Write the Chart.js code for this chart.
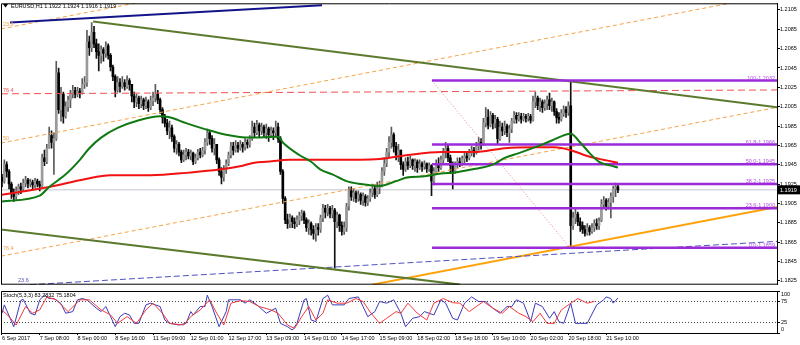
<!DOCTYPE html>
<html>
<head>
<meta charset="utf-8">
<script src="https://cdn.jsdelivr.net/npm/chart.js@4.4.0/dist/chart.umd.min.js"></script>
<style>
  html, body { margin: 0; padding: 0; background: #fff; }
  #wrap { position: relative; width: 800px; height: 345px; overflow: hidden; background: #fff; }
  canvas { position: absolute; left: 0; }
  #priceChart { top: 0; }
  #stochChart { top: 288px; }
</style>
</head>
<body>
<div id="wrap">
  <canvas id="priceChart" width="800" height="288"></canvas>
  <canvas id="stochChart" width="800" height="57"></canvas>
</div>
<script>
// ---- data ----
const symbol = 'EURUSD,H1';
const lastQuote = [1.1922, 1.1924, 1.1916, 1.1919];
const firstOpen = 1.1932;

const closes = [
  1.1928, 1.1945, 1.1938, 1.1925, 1.1915, 1.1912, 1.1918, 1.1922, 1.1920, 1.1926,
  1.1929, 1.1925, 1.1927, 1.1924, 1.1928, 1.1925, 1.1923, 1.1952, 1.1948, 1.1962,
  1.1975, 1.1968, 1.1972, 1.2040, 1.2002, 1.2018, 1.1995, 1.2005, 1.2012, 1.2018,
  1.2022, 1.2018, 1.2021, 1.2019, 1.2028, 1.2030, 1.2072, 1.2066, 1.2082, 1.2070,
  1.2062, 1.2058, 1.2064, 1.2060, 1.2068, 1.2058, 1.2046, 1.2036, 1.2022, 1.2030,
  1.2026, 1.2030, 1.2026, 1.2032, 1.2028, 1.2016, 1.2010, 1.2014, 1.2008, 1.2012,
  1.2006, 1.2010, 1.2004, 1.2011, 1.2014, 1.2018, 1.2012, 1.2002, 1.1994, 1.1988,
  1.1980, 1.1983, 1.1974, 1.1962, 1.1966, 1.1958, 1.1950, 1.1955, 1.1958, 1.1954,
  1.1957, 1.1948, 1.1952, 1.1958, 1.1955, 1.1960, 1.1968, 1.1978, 1.1972, 1.1962,
  1.1966, 1.1950, 1.1938, 1.1932, 1.1940, 1.1946, 1.1955, 1.1964, 1.1960, 1.1965,
  1.1962, 1.1966, 1.1963, 1.1968, 1.1966, 1.1972, 1.1984, 1.1978, 1.1986, 1.1980,
  1.1984, 1.1978, 1.1982, 1.1976, 1.1980, 1.1978, 1.1984, 1.1972, 1.1938, 1.1910,
  1.1888, 1.1884, 1.1890, 1.1886, 1.1884, 1.1888, 1.1892, 1.1895, 1.1888, 1.1880,
  1.1884, 1.1878, 1.1874, 1.1880, 1.1878, 1.1890, 1.1900, 1.1896, 1.1900, 1.1894,
  1.1898, 1.1886, 1.1893, 1.1882, 1.1876, 1.1880, 1.1902, 1.1918, 1.1912, 1.1916,
  1.1910, 1.1914, 1.1908, 1.1912, 1.1906, 1.1910, 1.1916, 1.1920, 1.1914, 1.1921,
  1.1924, 1.1938, 1.1946, 1.1958, 1.1968, 1.1976, 1.1964, 1.1955, 1.1960, 1.1945,
  1.1940, 1.1948, 1.1944, 1.1950, 1.1944, 1.1948, 1.1942, 1.1946, 1.1943, 1.1946,
  1.1941, 1.1944, 1.1928, 1.1938, 1.1946, 1.1942, 1.1950, 1.1958, 1.1962, 1.1952,
  1.1944, 1.1938, 1.1945, 1.1948, 1.1946, 1.1951, 1.1954, 1.1952, 1.1957, 1.1960,
  1.1958, 1.1964, 1.1968, 1.1966, 1.1988, 1.1994, 1.1986, 1.1996, 1.1988, 1.1992,
  1.1972, 1.1984, 1.1980, 1.1985, 1.1978, 1.1982, 1.1990, 1.1996, 1.1992, 1.1995,
  1.1992, 1.1995, 1.1993, 1.1995, 1.1991, 1.2010, 1.2014, 1.2006, 1.2010, 1.2004,
  1.2008, 1.2012, 1.2006, 1.2010, 1.2000, 1.1994, 1.1992, 1.1998, 1.2002, 1.1999,
  1.2006, 1.1882, 1.1890, 1.1894, 1.1886, 1.1882, 1.1878, 1.1874, 1.1880, 1.1876,
  1.1880, 1.1884, 1.1882, 1.1887, 1.1904, 1.1908, 1.1902, 1.1906, 1.1912, 1.1920,
  1.1922, 1.1919
];
const highs = [
  1.1935, 1.1950, 1.1948, 1.1940, 1.1927, 1.1920, 1.1922, 1.1925, 1.1926, 1.1930,
  1.1933, 1.1931, 1.1930, 1.1929, 1.1931, 1.1930, 1.1928, 1.1956, 1.1960, 1.1966,
  1.1984, 1.1980, 1.1978, 1.2052, 1.2045, 1.2025, 1.2020, 1.2010, 1.2016, 1.2022,
  1.2027, 1.2025, 1.2025, 1.2024, 1.2034, 1.2036, 1.2084, 1.2078, 1.2092, 1.2088,
  1.2075, 1.2070, 1.2068, 1.2066, 1.2072, 1.2070, 1.2060, 1.2048, 1.2038, 1.2036,
  1.2034, 1.2036, 1.2033, 1.2037, 1.2034, 1.2024, 1.2020, 1.2018, 1.2016, 1.2016,
  1.2014, 1.2015, 1.2012, 1.2016, 1.2020, 1.2028, 1.2022, 1.2014, 1.2004, 1.1997,
  1.1992, 1.1990, 1.1986, 1.1976, 1.1970, 1.1968, 1.1960, 1.1960, 1.1962, 1.1961,
  1.1960, 1.1958, 1.1956, 1.1961, 1.1962, 1.1963, 1.1972, 1.1982, 1.1980, 1.1975,
  1.1972, 1.1966, 1.1952, 1.1942, 1.1944, 1.1950, 1.1958, 1.1968, 1.1968, 1.1970,
  1.1968, 1.1970, 1.1968, 1.1972, 1.1971, 1.1975, 1.1990, 1.1988, 1.1991, 1.1988,
  1.1988, 1.1986, 1.1987, 1.1984, 1.1984, 1.1983, 1.1990, 1.1988, 1.1974, 1.1940,
  1.1912, 1.1894, 1.1894, 1.1892, 1.1890, 1.1892, 1.1896, 1.1898, 1.1897, 1.1890,
  1.1888, 1.1886, 1.1882, 1.1884, 1.1884, 1.1893, 1.1904, 1.1903, 1.1904, 1.1902,
  1.1903, 1.1900, 1.1896, 1.1894, 1.1886, 1.1886, 1.1905, 1.1922, 1.1922, 1.1920,
  1.1918, 1.1918, 1.1916, 1.1916, 1.1914, 1.1913, 1.1920, 1.1925, 1.1923, 1.1927,
  1.1928, 1.1942, 1.1952, 1.1962, 1.1974, 1.1984, 1.1978, 1.1968, 1.1966, 1.1960,
  1.1948, 1.1952, 1.1953, 1.1954, 1.1951, 1.1951, 1.1950, 1.1950, 1.1948, 1.1949,
  1.1947, 1.1947, 1.1945, 1.1942, 1.1950, 1.1952, 1.1954, 1.1962, 1.1968, 1.1965,
  1.1955, 1.1948, 1.1948, 1.1952, 1.1952, 1.1954, 1.1957, 1.1958, 1.1961, 1.1964,
  1.1963, 1.1968, 1.1973, 1.1972, 1.1993, 1.2004, 1.2002, 1.2000, 1.1998, 1.1996,
  1.1994, 1.1990, 1.1988, 1.1990, 1.1987, 1.1986, 1.1993, 1.2000, 1.1999, 1.1999,
  1.1998, 1.1998, 1.1997, 1.1998, 1.1997, 1.2016, 1.2020, 1.2016, 1.2014, 1.2012,
  1.2012, 1.2016, 1.2019, 1.2014, 1.2011, 1.2003, 1.1999, 1.2002, 1.2006, 1.2005,
  1.2010, 1.2032, 1.1896, 1.1899, 1.1896, 1.1890, 1.1886, 1.1882, 1.1884, 1.1882,
  1.1884, 1.1888, 1.1889, 1.1890, 1.1909, 1.1912, 1.1910, 1.1910, 1.1916, 1.1923,
  1.1926, 1.1924
];
const lows = [
  1.1922, 1.1926, 1.1932, 1.1920, 1.1910, 1.1907, 1.1909, 1.1914, 1.1915, 1.1918,
  1.1922, 1.1921, 1.1922, 1.1920, 1.1921, 1.1922, 1.1918, 1.1922, 1.1944, 1.1946,
  1.1962, 1.1962, 1.1935, 1.1970, 1.1998, 1.1990, 1.1988, 1.1993, 1.2000, 1.2004,
  1.2014, 1.2014, 1.2015, 1.2014, 1.2018, 1.2024, 1.2026, 1.2058, 1.2062, 1.2066,
  1.2055, 1.2042, 1.2050, 1.2052, 1.2056, 1.2054, 1.2042, 1.2032, 1.2015, 1.2020,
  1.2020, 1.2024, 1.2022, 1.2024, 1.2022, 1.2010, 1.2004, 1.2005, 1.2003, 1.2004,
  1.2002, 1.2003, 1.2000, 1.2002, 1.2006, 1.2010, 1.2008, 1.1998, 1.1988, 1.1984,
  1.1976, 1.1972, 1.1969, 1.1958, 1.1956, 1.1954, 1.1947, 1.1948, 1.1950, 1.1951,
  1.1950, 1.1945, 1.1946, 1.1950, 1.1952, 1.1953, 1.1956, 1.1965, 1.1966, 1.1958,
  1.1955, 1.1946, 1.1934, 1.1925, 1.1928, 1.1936, 1.1944, 1.1952, 1.1955, 1.1958,
  1.1958, 1.1960, 1.1958, 1.1960, 1.1962, 1.1963, 1.1970, 1.1974, 1.1976, 1.1974,
  1.1976, 1.1974, 1.1972, 1.1969, 1.1973, 1.1971, 1.1975, 1.1968, 1.1935, 1.1905,
  1.1884, 1.1879, 1.1880, 1.1880, 1.1879, 1.1881, 1.1883, 1.1887, 1.1884, 1.1876,
  1.1873, 1.1872, 1.1868, 1.1866, 1.1872, 1.1875, 1.1886, 1.1890, 1.1892, 1.1890,
  1.1890, 1.1838, 1.1880, 1.1876, 1.1872, 1.1873, 1.1876, 1.1898, 1.1908, 1.1907,
  1.1906, 1.1907, 1.1904, 1.1903, 1.1902, 1.1903, 1.1907, 1.1912, 1.1910, 1.1912,
  1.1915, 1.1922, 1.1934, 1.1943, 1.1952, 1.1962, 1.1958, 1.1950, 1.1948, 1.1940,
  1.1934, 1.1938, 1.1940, 1.1942, 1.1940, 1.1938, 1.1937, 1.1940, 1.1938, 1.1940,
  1.1937, 1.1938, 1.1913, 1.1924, 1.1935, 1.1938, 1.1940, 1.1946, 1.1952, 1.1948,
  1.1936, 1.1920, 1.1936, 1.1942, 1.1943, 1.1944, 1.1947, 1.1948, 1.1950, 1.1954,
  1.1953, 1.1956, 1.1960, 1.1961, 1.1965, 1.1984, 1.1982, 1.1984, 1.1982, 1.1983,
  1.1966, 1.1970, 1.1975, 1.1976, 1.1974, 1.1968, 1.1978, 1.1988, 1.1988, 1.1990,
  1.1988, 1.1990, 1.1989, 1.1990, 1.1988, 1.1990, 1.2004, 1.2002, 1.2000, 1.1999,
  1.2001, 1.2002, 1.2002, 1.2000, 1.1996, 1.1988, 1.1988, 1.1990, 1.1995, 1.1994,
  1.1996, 1.1859, 1.1878, 1.1884, 1.1882, 1.1876, 1.1874, 1.1871, 1.1872, 1.1872,
  1.1874, 1.1876, 1.1878, 1.1878, 1.1886, 1.1900, 1.1898, 1.1899, 1.1890, 1.1906,
  1.1912, 1.1916
];

const priceTicks = [1.1825, 1.1845, 1.1865, 1.1885, 1.1905, 1.1925, 1.1945, 1.1965,
  1.1985, 1.2005, 1.2025, 1.2045, 1.2065, 1.2085, 1.2105];
const timeTickBars = [0, 16, 32, 48, 64, 80, 96, 112, 128, 144, 160, 176, 192, 208, 224, 240, 256];
const timeLabels = ['6 Sep 2017', '7 Sep 08:00', '8 Sep 00:00', '8 Sep 16:00', '11 Sep 09:00',
  '12 Sep 01:00', '12 Sep 17:00', '13 Sep 09:00', '14 Sep 01:00', '14 Sep 17:00', '15 Sep 09:00',
  '18 Sep 02:00', '18 Sep 18:00', '19 Sep 10:00', '20 Sep 02:00', '20 Sep 18:00', '21 Sep 10:00'];

// moving averages, read at these bars
const maFastBars = [0, 16, 20, 27, 33, 37, 42, 49, 58, 67, 71, 78, 87, 95, 105, 117, 119, 126, 131, 135,
  140, 146, 152, 160, 167, 172, 179, 186, 192, 199, 208, 213, 219, 228, 233, 241, 245, 249, 253, 258, 261];
const maFast = [1.1907, 1.1913, 1.1922, 1.1935, 1.1950, 1.1962, 1.1973, 1.1983, 1.1991, 1.1995,
  1.1994, 1.1988, 1.1981, 1.1976, 1.1973, 1.1974, 1.1968, 1.1955, 1.1948, 1.1940,
  1.1935, 1.1928, 1.1925, 1.1923, 1.1928, 1.1932, 1.1933, 1.1936, 1.1937, 1.1940,
  1.1945, 1.1952, 1.1957, 1.1965, 1.1970, 1.1977, 1.1968, 1.1957, 1.1948, 1.1944, 1.1942];
const maSlowBars = [0, 20, 35, 46, 63, 80, 92, 102, 107, 112, 122, 140, 160, 172, 186, 200, 213, 225,
  234, 241, 248, 253, 261];
const maSlow = [1.1914, 1.1922, 1.1930, 1.1934, 1.1934, 1.1937, 1.1940, 1.1944, 1.1947, 1.1948,
  1.1950, 1.1950, 1.1951, 1.1955, 1.1958, 1.1958, 1.1962, 1.1963, 1.1963, 1.1960, 1.1954, 1.1951, 1.1947];

// stochastic (5,3,3)
const stochKBars = [0, 1, 5, 8, 9, 12, 14, 16, 18, 20, 22, 25, 27, 30, 32, 34, 36, 40, 42, 44,
  46, 48, 50, 52, 54, 56, 58, 61, 63, 67, 69, 71, 75, 78, 80, 81, 84, 86, 87, 89,
  92, 95, 96, 101, 103, 105, 108, 112, 116, 118, 121, 123, 125, 128, 129, 131, 133, 136, 138, 140,
  145, 147, 151, 153, 155, 158, 160, 163, 166, 169, 171, 174, 177, 179, 183, 186, 188, 191, 193, 196,
  199, 202, 205, 208, 211, 214, 216, 218, 221, 224, 226, 229, 232, 234, 236, 238, 241, 243, 245, 248,
  252, 255, 256, 258, 259, 261];
const stochK = [47, 67, 15, 78, 80, 47, 43, 79, 90, 82, 82, 70, 47, 51, 79, 82, 79, 59, 51, 63,
  39, 15, 39, 47, 43, 23, 23, 67, 71, 63, 31, 23, 19, 23, 51, 43, 63, 63, 90, 63,
  15, 51, 79, 79, 71, 79, 67, 47, 59, 23, 15, 7, 23, 79, 82, 31, 27, 82, 90, 67,
  67, 82, 86, 63, 39, 51, 75, 71, 79, 47, 15, 35, 39, 51, 43, 79, 71, 35, 31, 71,
  86, 75, 75, 59, 47, 63, 63, 79, 71, 27, 71, 63, 35, 51, 27, 23, 71, 23, 23, 23,
  67, 79, 86, 82, 71, 83.28];
const stochDBars = [0, 3, 6, 10, 13, 16, 19, 23, 28, 33, 37, 42, 46, 49, 53, 57, 61, 64, 68, 71,
  77, 80, 84, 88, 91, 94, 97, 101, 105, 109, 114, 117, 121, 124, 127, 130, 133, 136, 138, 142,
  146, 150, 153, 156, 160, 163, 167, 169, 172, 176, 180, 183, 187, 191, 194, 198, 201, 204, 208, 212,
  215, 219, 222, 225, 228, 231, 234, 237, 241, 244, 248, 251, 255, 258, 260, 261];
const stochD = [55, 39, 19, 63, 47, 55, 86, 79, 51, 79, 79, 55, 43, 23, 39, 23, 55, 71, 47, 23,
  19, 39, 55, 79, 47, 19, 71, 77, 75, 63, 55, 47, 19, 11, 39, 63, 31, 47, 79, 71,
  71, 82, 75, 50, 23, 35, 51, 47, 71, 47, 31, 71, 82, 72, 71, 51, 63, 75, 59, 47,
  63, 47, 39, 27, 47, 23, 23, 55, 71, 82, 71, 75.18];
const stochLevels = [75, 25];
const stochTicks = [100, 75, 25, 0];
const stochLast = [83.2832, 75.1804];

// fibonacci retracement object
const fibPrices = [1.2032, 1.1966, 1.19455, 1.1925, 1.1900, 1.1859];
const fibLabels = ['100-1.2032', '61.8-1.1966', '50.0-1.1945', '38.2-1.1925', '23.6-1.1900', '0.0-1.1859'];
const fibStartBar = 182.2;

// axis window
const xMin = -0.42, xMax = 328.4;
const yMin = 1.18209, yMax = 1.21119;

const FONT = "'Liberation Sans', Arial, sans-serif";
const TEXT_SIZE = 5.5;
const fontCss = size => size + 'px ' + FONT;

const opens = closes.map((c, i) => (i === 0 ? firstOpen : closes[i - 1]));

function segment(from, to, color, width, dash, order) {
    return {
        type: 'line',
        data: [{ x: from[0], y: from[1] }, { x: to[0], y: to[1] }],
        borderColor: color,
        borderWidth: width,
        borderDash: dash || [],
        pointRadius: 0,
        tension: 0,
        order,
    };
}

function series(bars, values, color, width, order, tension) {
    return {
        type: 'line',
        data: bars.map((b, i) => ({ x: b, y: values[i] })),
        borderColor: color,
        borderWidth: width,
        pointRadius: 0,
        tension: tension || 0,
        cubicInterpolationMode: tension ? 'monotone' : 'default',
        order,
    };
}

const drawings = [
    segment([3.4, 1.2092], [135.6, 1.2110], '#14148a', 2, null, 4),
    segment([38.6, 1.2093], [328.4, 1.20045], '#5b7a2e', 2, null, 4),
    segment([-0.42, 1.1878], [194, 1.1821], '#5b7a2e', 2, null, 4),
    segment([-0.42, 1.20854], [60, 1.21137], '#f7a244', 1, [4, 3], 4),
    segment([-0.42, 1.19674], [328.4, 1.21213], '#f7a244', 1, [4, 3], 4),
    segment([-0.42, 1.18504], [328.4, 1.20043], '#f7a244', 1, [4, 3], 4),
    segment([-0.42, 1.20183], [328.4, 1.20223], '#f05050', 1, [7, 4], 4),
    segment([fibStartBar, fibPrices[0]], [240.7, fibPrices[5]], '#f08080', 1, [1, 2], 4),
    segment([11.9, 1.18209], [328.4, 1.18657], '#5050c0', 1, [6, 3], 4),
    segment([156.8, 1.18209], [328.4, 1.19013], '#ffa20a', 2, null, 4),
];
const fibLines = fibPrices.map(p => segment([fibStartBar, p], [xMax, p], '#9b2bd9', 2.5, null, 3));

const channelNotes = [
    { bar: 0.4, price: 1.20905, text: '23.6', color: '#f0a050' },
    { bar: 0.4, price: 1.20213, text: '76.4', color: '#f05050' },
    { bar: 0.4, price: 1.19725, text: '50', color: '#f0a050' },
    { bar: 0.4, price: 1.18583, text: '76.4', color: '#f0a050' },
    { bar: 6.8, price: 1.18250, text: '23.6', color: '#5050c0' },
];

const priceOverlay = {
    id: 'priceOverlay',
    afterDraw(chart) {
        const { ctx, chartArea: a, scales } = chart;
        const x = scales.x, y = scales.y;
        ctx.save();
        ctx.strokeStyle = '#000';
        ctx.lineWidth = 1;
        ctx.beginPath();
        ctx.moveTo(a.left + 0.5, a.bottom - 0.5);
        ctx.lineTo(a.left + 0.5, a.top + 0.5);
        ctx.lineTo(a.right, a.top + 0.5);
        ctx.moveTo(a.left, a.bottom - 0.5);
        ctx.lineTo(a.right, a.bottom - 0.5);
        ctx.stroke();

        // fib labels
        ctx.font = fontCss(TEXT_SIZE);
        ctx.textAlign = 'right';
        ctx.textBaseline = 'bottom';
        ctx.fillStyle = '#b04ee6';
        fibPrices.forEach((p, i) => {
            ctx.fillText(fibLabels[i], a.right - 2, y.getPixelForValue(p) + 0.5);
        });

        // channel level labels
        ctx.textAlign = 'left';
        ctx.textBaseline = 'middle';
        channelNotes.forEach(n => {
            ctx.fillStyle = n.color;
            ctx.fillText(n.text, x.getPixelForValue(n.bar), y.getPixelForValue(n.price));
        });

        // title
        ctx.fillStyle = '#000';
        ctx.beginPath();
        ctx.moveTo(3, 4);
        ctx.lineTo(8, 4);
        ctx.lineTo(5.5, 7.5);
        ctx.closePath();
        ctx.fill();
        ctx.fillText(symbol + ' ' + lastQuote.map(v => v.toFixed(4)).join(' '), 11, 6);

        // current price box
        const py = y.getPixelForValue(lastQuote[3]);
        ctx.fillStyle = '#000';
        ctx.fillRect(a.right, py - 4.5, 800 - a.right, 9);
        ctx.fillStyle = '#fff';
        ctx.fillText(lastQuote[3].toFixed(4), a.right + 3, py + 0.5);
        ctx.restore();
    },
};

const wickColor = closes.map((c, i) => (c >= opens[i] ? '#5a5a5a' : '#111'));
const bodyColor = closes.map((c, i) => (c >= opens[i] ? '#9a9a9a' : '#000'));

new Chart(document.getElementById('priceChart').getContext('2d'), {
    type: 'bar',
    data: {
        datasets: [
            series(maFastBars, maFast, '#0f7a12', 2, 1, 0.3),
            series(maSlowBars, maSlow, '#f21212', 2, 2, 0.3),
            ...fibLines,
            ...drawings,
            {
                type: 'bar',
                data: closes.map((c, i) => ({ x: i, y: [opens[i], c] })),
                backgroundColor: bodyColor,
                barThickness: 2,
                minBarLength: 1,
                grouped: false,
                order: 6,
            },
            {
                type: 'bar',
                data: closes.map((c, i) => ({
                    x: i,
                    y: [Math.min(lows[i], opens[i], c), Math.max(highs[i], opens[i], c)],
                })),
                backgroundColor: wickColor,
                barThickness: 1,
                grouped: false,
                order: 7,
            },
            segment([xMin, lastQuote[3]], [xMax, lastQuote[3]], '#c4c4d0', 1, null, 8),
        ],
    },
    options: {
        responsive: false,
        animation: false,
        devicePixelRatio: 1,
        events: [],
        layout: { padding: { left: 1, top: 1, right: 0, bottom: 1 } },
        plugins: { legend: { display: false }, tooltip: { enabled: false } },
        scales: {
            x: { type: 'linear', min: xMin, max: xMax, offset: false, display: false },
            y: {
                position: 'right',
                min: yMin,
                max: yMax,
                afterFit(s) { s.width = 23; },
                afterBuildTicks(s) { s.ticks = priceTicks.map(v => ({ value: v })); },
                ticks: { callback: v => v.toFixed(4), color: '#000', padding: 0, font: { family: FONT, size: TEXT_SIZE } },
                grid: { drawOnChartArea: false, tickLength: 3, color: '#000' },
                border: { color: '#000' },
            },
        },
    },
    plugins: [priceOverlay],
});

const stochOverlay = {
    id: 'stochOverlay',
    afterDraw(chart) {
        const { ctx, chartArea: a, scales } = chart;
        ctx.save();
        ctx.strokeStyle = '#000';
        ctx.lineWidth = 1;
        ctx.beginPath();
        ctx.moveTo(a.left + 0.5, a.bottom);
        ctx.lineTo(a.left + 0.5, a.top + 0.5);
        ctx.lineTo(a.right, a.top + 0.5);
        ctx.stroke();
        ctx.font = fontCss(TEXT_SIZE);
        ctx.fillStyle = '#000';
        ctx.textBaseline = 'middle';
        ctx.textAlign = 'left';
        ctx.fillText('Stoch(5,3,3) ' + stochLast.map(v => v.toFixed(4)).join(' '), 3, a.top + 4);
        stochTicks.forEach(v => {
            const py = Math.min(Math.max(scales.y.getPixelForValue(v), a.top + 3), a.bottom - 4);
            ctx.fillText(String(v), a.right + 4, py);
        });
        ctx.restore();
    },
};

new Chart(document.getElementById('stochChart').getContext('2d'), {
    type: 'line',
    data: {
        datasets: [
            series(stochKBars, stochK, '#3a3ab8', 1, 2),
            series(stochDBars, stochD, '#f23a3a', 1, 1),
            ...stochLevels.map(l => segment([xMin, l], [xMax, l], '#444', 1, [1, 2], 3)),
        ],
    },
    options: {
        responsive: false,
        animation: false,
        devicePixelRatio: 1,
        events: [],
        layout: { padding: { left: 1, top: 3, right: 0, bottom: 0 } },
        plugins: { legend: { display: false }, tooltip: { enabled: false } },
        scales: {
            x: {
                type: 'linear',
                min: xMin,
                max: xMax,
                offset: false,
                afterFit(s) { s.height = 12; },
                afterBuildTicks(s) { s.ticks = timeTickBars.map(v => ({ value: v })); },
                ticks: {
                    autoSkip: false,
                    maxRotation: 0,
                    align: 'start',
                    padding: 0,
                    color: '#000',
                    font: { family: FONT, size: TEXT_SIZE },
                    callback: (v, i) => timeLabels[i],
                },
                grid: { drawOnChartArea: false, tickLength: 2, color: '#000' },
                border: { color: '#000' },
            },
            y: {
                position: 'right',
                min: 0,
                max: 100,
                afterFit(s) { s.width = 23; },
                afterBuildTicks(s) { s.ticks = stochTicks.map(v => ({ value: v })); },
                ticks: { display: false },
                grid: { drawOnChartArea: false, tickLength: 3, color: '#000' },
                border: { color: '#000' },
            },
        },
    },
    plugins: [stochOverlay],
});
</script>
</body>
</html>
